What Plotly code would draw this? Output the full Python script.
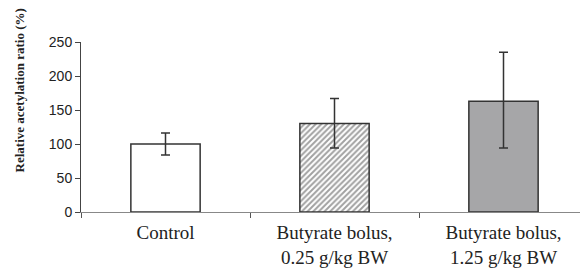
import plotly.graph_objects as go

categories = ["Control", "Butyrate bolus,<br>0.25 g/kg BW", "Butyrate bolus,<br>1.25 g/kg BW"]
means = [100, 130, 163]
err_plus = [16, 37, 72]
err_minus = [16, 36, 69]
y_ticks = [0, 50, 100, 150, 200, 250]

fig = go.Figure()
fig.add_trace(go.Bar(
    x=categories, y=means, width=0.41,
    marker=dict(
        color=["white", "white", "#a6a6a8"],
        line=dict(color="#333333", width=1.5),
        pattern=dict(shape=["", "/", ""], fgcolor="#505050", bgcolor="white", size=4, solidity=0.5),
    ),
    error_y=dict(type="data", array=err_plus, arrayminus=err_minus, symmetric=False,
                 color="#333333", thickness=1.5, width=4.5),
    showlegend=False,
))

# page body has an 8px default margin, so the figure is sized to the visible area
fig.update_layout(
    width=580, height=261,
    margin=dict(l=73, r=0, t=34, b=57),
    paper_bgcolor="white", plot_bgcolor="white",
    xaxis=dict(
        type="category", tickson="boundaries", ticks="outside", ticklen=5, tickcolor="#555555",
        showline=True, linecolor="#888888", linewidth=1.2, showgrid=False, automargin=False,
        tickfont=dict(family="Liberation Serif", size=19, color="#222222"),
        ticklabelstandoff=3,
        range=[-0.5, 2.5],
    ),
    yaxis=dict(
        range=[0, 250], tickvals=y_ticks, ticks="outside", ticklen=5, tickcolor="#444444",
        showline=True, linecolor="#444444", linewidth=1, showgrid=False, zeroline=False,
        automargin=False,
        tickfont=dict(family="Liberation Sans", size=14, color="#222222"),
    ),
    annotations=[dict(
        text="<b>Relative acetylation ratio (%)</b>", textangle=-90,
        xref="paper", yref="paper", x=-0.1213, y=0.712, xanchor="center", yanchor="middle",
        showarrow=False, font=dict(family="Liberation Serif", size=13, color="#222222"),
    )],
)

fig.write_html("out.html")
